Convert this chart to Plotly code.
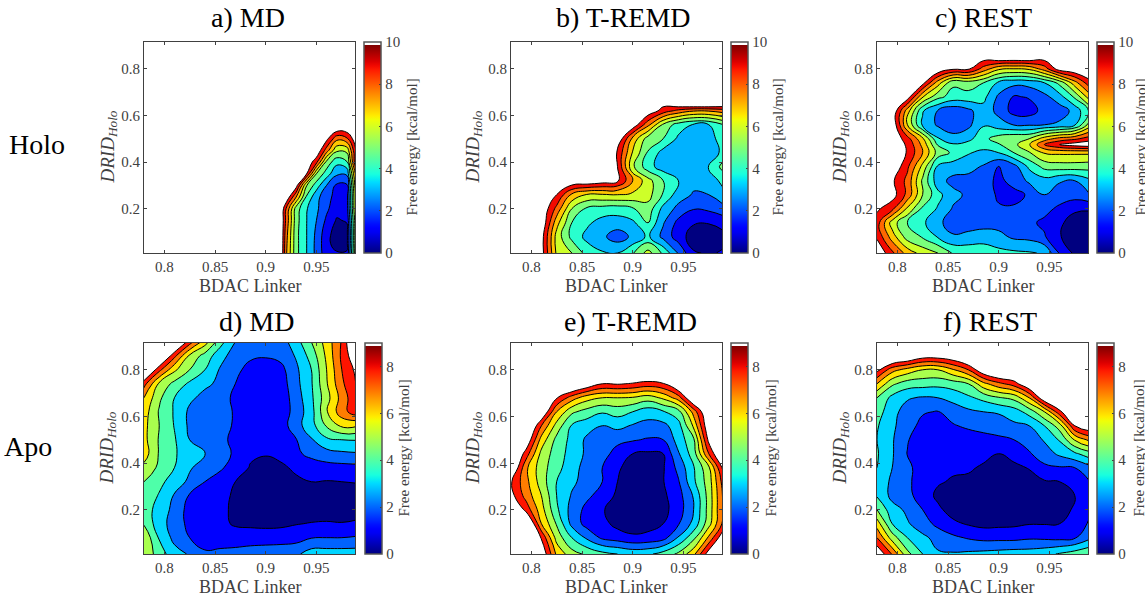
import plotly.graph_objects as go

W = 11  # beyond the colour range: unsampled, left white

col_x = [.78,.795,.81,.825,.84,.855,.87,.885,.90,.915,.93,.945,.96,.975,.99]
row_y = [.92,.86,.80,.74,.68,.62,.56,.50,.44,.38,.32,.26,.20,.14,.08,.01]

a_x = [.78,.915,.92,.93,.94,.95,.96,.97,.98,.99]
a_y = [.92,.55,.50,.45,.40,.35,.30,.25,.20,.15,.10,.05,.01]
a_z = [
 [W,W,W,W,W,W,W,W,W,W],
 [W,W,W,W,W,W,W,W,W,W],
 [W,W,W,W,W,W,10.3,8.3,8.8,W],
 [W,W,W,W,W,W,8.5,6.2,6.3,10.5],
 [W,W,W,W,W,9.3,5.7,4.3,4.9,10.5],
 [W,W,W,W,10.2,6,4.5,3.2,3.2,9],
 [W,W,W,10.5,6.1,4.5,3,1.8,1.8,8.5],
 [W,W,W,8,4.9,3.3,2.4,1.6,1.6,8],
 [W,W,9,5.5,4.1,3.2,2.2,1.35,1.5,8],
 [W,W,8.8,5.4,4.05,3,1.8,.9,1.1,7.5],
 [W,W,8.5,5.3,4.05,2.8,1.4,.55,.7,7.5],
 [W,W,8.3,5.3,4.05,2.7,1.3,.55,.7,7.5],
 [W,W,8.2,5.3,4.05,2.7,1.4,1.1,1.1,7.5],
]

b_z = [
 [W]*15,[W]*15,[W]*15,[W]*15,
 [W,W,W,W,W,W,W,W,W,W,W,13.3,14.8,14.8,13.5],
 [W,W,W,W,W,W,W,W,W,10.8,9.6,8.7,8.1,8.1,8.5],
 [W,W,W,W,W,W,W,W,10.8,8.3,5.8,4.5,3.9,4,5],
 [W,W,W,W,W,W,W,W,7.7,5.5,5,3.8,3.5,3.6,4.5],
 [W,W,W,W,W,W,W,9.9,6.9,4.9,3.6,3.2,3.2,3.4,4.3],
 [W,W,W,W,W,W,W,10,6.2,4.4,3.5,3.2,3.3,4.1,5.4],
 [W,W,W,W,W,W,10.6,10.2,8,6.4,5,4,3.3,3.5,4.3],
 [W,W,W,10,7.8,6.9,6.9,7,6.8,6.4,4.9,3.5,2.9,3,3.8],
 [W,W,W,8.7,6,4.8,4.6,4.5,4.9,5.6,3.7,2.7,2.05,2.2,2.7],
 [W,W,W,7.4,5,4.2,3.6,3.5,3.8,5,3.1,1.7,1.1,1.05,1.35],
 [W,W,10.5,6.6,4.7,3.7,3.2,2.5,3.2,4.2,2.7,1.5,.5,.45,.75],
 [W,W,10.5,6.8,6,4.6,4.1,4,4.9,6.4,4.8,2.9,1.1,.9,1.1],
]

c_y = [.92,.86,.80,.74,.68,.62,.56,.50,.475,.44,.38,.32,.26,.20,.14,.08,.01]
c_z = [
 [W]*15,
 [W,W,W,W,W,W,W,W,12,12,12,W,W,W,W],
 [W,W,W,W,W,10.2,10.2,8.6,7.2,7,7.2,8.5,10.6,W,W],
 [W,W,W,10.4,7.5,5.2,5.5,5,3.8,3.3,3.4,4,5.3,7.6,9.7],
 [W,W,10.6,7.1,5.3,4.6,4.6,4.3,2.8,1.9,2.1,2.7,3.6,5.2,7.6],
 [W,W,7.5,4.1,2.95,2.3,2.75,3.6,2.7,1.6,1.5,2.4,2.5,3.3,5.2],
 [W,W,7,3.8,2.85,2.35,2.75,3.9,3.4,2.95,2.9,3,3.2,3.9,6.5],
 [W,W,9.4,7.2,4.1,3.4,3.7,4.7,5.5,5.9,6,7.5,8.4,8.8,9.5],
 [W,W,9.8,7.7,4.9,4.1,4.4,4.5,4.9,5.7,6.9,9,10,10.5,10.8],
 [W,W,9.9,8,5.6,4.8,4.1,3.7,4,5,5.9,7.1,7.2,7.2,7.2],
 [W,W,9.2,6.7,3.8,3.5,3.3,2.9,1.95,2.6,4.2,5.3,5.5,5.5,5.4],
 [W,10.2,8.7,5.8,3.4,2.7,2.7,2.35,1.8,2.3,3.2,3.6,3.1,3,3.8],
 [W,10.5,8.7,6,4.3,3.3,2.8,2.5,1.85,1.75,2.1,3,2.5,2.5,3],
 [10.2,9.3,6.8,4.8,3.9,2.9,2.6,2.6,2.1,2.1,2.55,2.3,1.8,1.1,1.05],
 [9.5,6.5,5,4.2,3.2,2.6,2.5,2.5,2.6,2.7,2.2,1.8,1.1,.75,.75],
 [9.8,7.5,5.5,4.9,3.9,3.1,3.3,3.6,3.3,2.8,2.7,2.1,1.05,.6,.6],
 [W,9.2,7.6,6.6,6,4.9,4.7,4.5,4.3,4.2,4.1,3.9,1.9,.8,.8],
]

d_z = [
 [W,W,W,8.5,6.5,4.4,3,2.4,2.2,2.5,3.6,5,6.4,8.1,W],
 [W,W,8.3,5.8,4.6,3.4,2.5,2.2,2.1,2.3,3.1,4.4,6.2,8.2,10],
 [W,8.3,6.2,5,4,2.9,2.3,1.6,1.4,1.7,2.8,4,6,8,9.3],
 [8.4,5.8,4.7,3.8,3.2,2.8,2,1.4,1.3,1.5,2.7,3.9,5.9,7.8,9.1],
 [7,5.2,4,3.2,2.7,2.2,1.9,1.3,1.2,1.4,2.5,3.8,5.6,7.4,8.9],
 [6.5,4.9,3.9,2.8,2.4,2.2,1.95,1.2,1.15,1.4,2.4,3.6,5.9,7.6,8.6],
 [6.3,5,3.95,2.8,2.4,2.15,1.95,1.25,1.15,1.5,2.6,3.6,5.1,6.2,6.1],
 [6.3,4.9,4.1,3,2.6,2.2,1.8,1.2,1.1,1.4,1.95,2.9,3.8,4,4.05],
 [6.5,4.9,4.1,3.5,3.05,2.4,1.85,1.2,1.05,1.3,1.8,2.3,2.6,2.8,2.9],
 [5.7,4.8,4,3.1,2.6,2.1,1.7,.9,.75,.8,1.2,1.4,1.6,1.65,1.7],
 [5,4.3,3.5,2.8,2,1.7,1,.6,.55,.6,.8,1,.95,1,1.05],
 [4.8,3.9,2.9,1.9,1.4,1.3,.85,.5,.45,.45,.5,.55,.55,.55,.6],
 [4.5,3.6,2.7,1.6,1.25,1.3,.75,.5,.4,.45,.5,.5,.5,.5,.6],
 [4.9,3.4,2.6,1.7,1.3,1.2,.9,.8,.75,.8,.95,1.05,1.1,1.05,1.15],
 [5.8,3.9,2.7,2,1.4,1.4,1.4,1.5,1.5,1.5,1.6,1.95,2,2,2.1],
 [5.8,4.5,3.4,2.9,2.2,2.3,2.4,2.5,2.6,2.7,2.8,3.5,3.5,3.5,3.5],
]

e_z = [
 [W]*15,[W]*15,[W]*15,
 [W,W,W,W,W,10,9,9.1,8.9,8.6,8.9,10.5,W,W,W],
 [W,W,W,9.1,7.5,6.4,6,6,5.9,5.5,6.2,7.5,10.5,W,W],
 [W,W,10.3,7,5.2,4.6,4.1,4.4,4,3.4,3.9,4.6,7.4,10.5,W],
 [W,W,8,5.6,3.9,3.4,3,3.3,2.9,2.7,2.7,3.6,6.2,10,W],
 [W,10,6.6,4.7,3.7,2.8,2.4,2.2,2.1,1.9,2,3.4,4.8,9.3,W],
 [W,8.5,5.7,4.5,3.6,2.8,2.3,1.7,1,.85,1,2.9,4.5,8,W],
 [10.5,7.2,5.4,4.4,3.3,2.7,2,1.1,.7,.6,.9,2.3,3.9,5.8,9.5],
 [9.1,7.3,5.5,4,3.2,2.6,2,1,.6,.6,.95,1.9,3.8,5.5,8.6],
 [9.4,7.6,6,4,2.9,2.2,1.6,.8,.6,.6,.8,1.6,3.1,5.4,8.3],
 [W,8.6,6.4,4.2,2.6,1.7,1.1,.5,.4,.45,.7,1.5,3,5.4,8.3],
 [W,W,7,4.9,2.7,1.6,1.3,.7,.45,.6,1,1.9,3.3,5.6,8.4],
 [W,W,8.9,5.6,4,2.8,1.8,1.5,1.2,1.3,1.6,3.1,4.7,7.2,10],
 [W,W,10,6.8,5.4,4.8,4.3,4,3.7,3.8,4.4,5.2,6.7,9.6,W],
]

f_z = [
 [W]*15,
 [W,W,10.5,9.6,9.6,10,W,W,W,W,W,W,W,W,W],
 [9.3,7.4,6.6,6,6,6.9,8,10,W,W,W,W,W,W,W],
 [7,5.2,4.5,4.4,4.3,4.5,5,6.7,7.7,8.5,10.2,W,W,W,W],
 [5,3.7,3.1,2.9,3,3.3,3.8,4.3,4.9,5.3,7,10,W,W,W],
 [4.5,3.3,2.6,2.1,1.95,2.5,2.8,3,3.1,3.5,4.4,6,8.7,W,W],
 [4.1,3.2,2.4,1.7,1.3,1.9,2.2,2.4,2.5,2.8,3,4,5.5,9,10],
 [4,3.1,2.1,1.2,1.1,1.2,1.4,1.6,1.8,2,2.4,3.1,4.1,6.1,7.3],
 [4.1,3.1,1.95,1.2,1.1,1.1,1.2,1.2,1,1.3,1.9,2.5,3.2,3.8,4.6],
 [4,3,2.3,1.4,1.2,1.15,1.1,.9,.65,.8,1.05,1.8,1.9,2,2.7],
 [3.7,2.8,2.2,1.5,1.1,.9,.85,.7,.55,.6,.65,.9,1,1.3,2],
 [3.9,2.7,2.3,1.5,.8,.55,.5,.5,.45,.45,.45,.5,.6,1,1.8],
 [5,3.4,2.8,2,1.2,.6,.5,.5,.45,.45,.5,.55,.7,1.1,1.9],
 [6.5,4,3.1,2.5,1.7,1.2,.9,.7,.75,.8,.95,.95,1,1.2,2.2],
 [8,5.5,4,3.2,2.7,2.2,1.9,1.7,1.7,1.7,1.85,1.8,1.7,1.9,2.8],
 [10,7.9,5.3,4,3.1,3.1,3.2,3.3,3.4,3.5,3.5,3.7,4.1,4.5,4.9],
]

titles = ["a) MD","b) T-REMD","c) REST","d) MD","e) T-REMD","f) REST"]
row_labels = ["Holo","Apo"]
x_ticks = [.8,.85,.9,.95]
x_ticktext = ["0.8","0.85","0.9","0.95"]
y_ticks = [.2,.4,.6,.8]
y_ticktext = ["0.2","0.4","0.6","0.8"]
cbar_label = "Free energy [kcal/mol]"
x_label = "BDAC Linker"
y_label = "<i>DRID</i><sub><i>Holo</i></sub>"

PW, PH = 1145, 595
SERIF = "Liberation Serif"
GREY = "#404040"

def lerp(pts, t):
    if t <= pts[0][0]:
        return pts[0][1]
    for (a, va), (b, vb) in zip(pts, pts[1:]):
        if t <= b:
            return va + (vb - va) * (t - a) / (b - a)
    return pts[-1][1]

JR = [(0,0),(.35,0),(.66,1),(.89,1),(1,.5)]
JG = [(0,0),(.125,0),(.375,1),(.64,1),(.91,0),(1,0)]
JB = [(0,.5),(.11,1),(.34,1),(.65,0),(1,0)]

def jet(t):
    return "rgb(%d,%d,%d)" % tuple(round(255 * lerp(c, t)) for c in (JR, JG, JB))

def band_scale(top):
    # a band between level k and k+1 takes the colour of level k; above the top level stays white
    s = [[k / top, jet(k / top)] for k in range(top)]
    s.append([1, "white"])
    return s

bar_scale = [[i / 50 * .985, jet(i / 50)] for i in range(51)] + [[.986, "white"], [1, "white"]]

panels = [
    dict(x=a_x, y=a_y, z=a_z, top=10, left=144, ptop=42, cb=364, tx=247.5, ty=17, xl=250, yl=108, cl=411),
    dict(x=col_x, y=row_y, z=b_z, top=10, left=511, ptop=42, cb=731, tx=623, ty=17, xl=617, yl=473, cl=777),
    dict(x=col_x, y=c_y, z=c_z, top=10, left=877, ptop=42, cb=1097, tx=983, ty=17, xl=983, yl=840, cl=1140),
    dict(x=col_x, y=row_y, z=d_z, top=9, left=144, ptop=343, cb=365, tx=256, ty=321, xl=250.5, yl=107, cl=403),
    dict(x=col_x, y=row_y, z=e_z, top=9, left=511, ptop=343, cb=731, tx=630, ty=321, xl=617, yl=473, cl=770),
    dict(x=col_x, y=row_y, z=f_z, top=9, left=877, ptop=343, cb=1097, tx=990, ty=321, xl=983, yl=840, cl=1138),
]

SIZE = 211
fig = go.Figure()
ann = []
layout = {}

def note(text, x, y, size, color=GREY, angle=0):
    ann.append(dict(text=text, x=x / PW, y=1 - y / PH, xref="paper", yref="paper",
                    xanchor="center", yanchor="middle", showarrow=False, textangle=angle,
                    font=dict(family=SERIF, size=size, color=color)))

for i, p in enumerate(panels):
    n = "" if i == 0 else str(i + 1)
    fig.add_trace(go.Contour(
        x=p["x"], y=p["y"][::-1], z=p["z"][::-1], xaxis="x" + n, yaxis="y" + n,
        autocontour=False, colorscale=band_scale(p["top"]), showscale=False,
        contours=dict(start=1, end=p["top"], size=1, coloring="fill", showlines=True),
        line=dict(color="black", width=1, smoothing=1.3), hoverinfo="skip",
    ))
    bar_ticks = list(range(0, p["top"] + 1, 2))
    fig.add_trace(go.Scatter(
        x=[None], y=[None], xaxis="x" + n, yaxis="y" + n, mode="markers", showlegend=False, hoverinfo="skip",
        marker=dict(color=[0], cmin=0, cmax=p["top"], colorscale=bar_scale, showscale=True,
            colorbar=dict(x=p["cb"] / PW, xanchor="left", xpad=0, ypad=0,
                y=1 - (p["ptop"] + SIZE) / PH, yanchor="bottom",
                len=SIZE, lenmode="pixels", thickness=17, thicknessmode="pixels",
                outlinecolor="#555555", outlinewidth=1.5, borderwidth=0,
                tickvals=bar_ticks, ticks="inside", ticklen=2, tickcolor=GREY,
                tickfont=dict(family=SERIF, size=15, color=GREY))),
    ))
    layout["xaxis" + n] = dict(
        domain=[p["left"] / PW, (p["left"] + SIZE) / PW], range=[.78, .988], anchor="y" + n,
        tickvals=x_ticks, ticktext=x_ticktext, ticks="inside", ticklen=3, tickcolor=GREY,
        tickfont=dict(family=SERIF, size=15, color=GREY), showgrid=False, zeroline=False,
        showline=True, linecolor=GREY, linewidth=1, mirror="ticks")
    layout["yaxis" + n] = dict(
        domain=[1 - (p["ptop"] + SIZE) / PH, 1 - p["ptop"] / PH], range=[.01, .915], anchor="x" + n,
        tickvals=y_ticks, ticktext=y_ticktext, ticks="inside", ticklen=3, tickcolor=GREY,
        tickfont=dict(family=SERIF, size=15, color=GREY), showgrid=False, zeroline=False,
        showline=True, linecolor=GREY, linewidth=1, mirror="ticks")
    mid = p["ptop"] + SIZE / 2
    note(titles[i], p["tx"], p["ty"], 28, "black")
    note(x_label, p["xl"], p["ptop"] + SIZE + 33, 18)
    note(y_label, p["yl"], mid, 19, GREY, -90)
    note(cbar_label, p["cl"], mid, 15, GREY, -90)

note(row_labels[0], 37, 144, 28, "black")
note(row_labels[1], 28, 446, 28, "black")

fig.update_layout(width=PW, height=PH, margin=dict(l=0, r=0, t=0, b=0), autosize=False,
                  paper_bgcolor="white", plot_bgcolor="white", showlegend=False,
                  annotations=ann, **layout)
fig.write_html("out.html", config={"displayModeBar": False},
               post_script="document.body.style.margin='0';document.body.style.overflow='hidden';")
